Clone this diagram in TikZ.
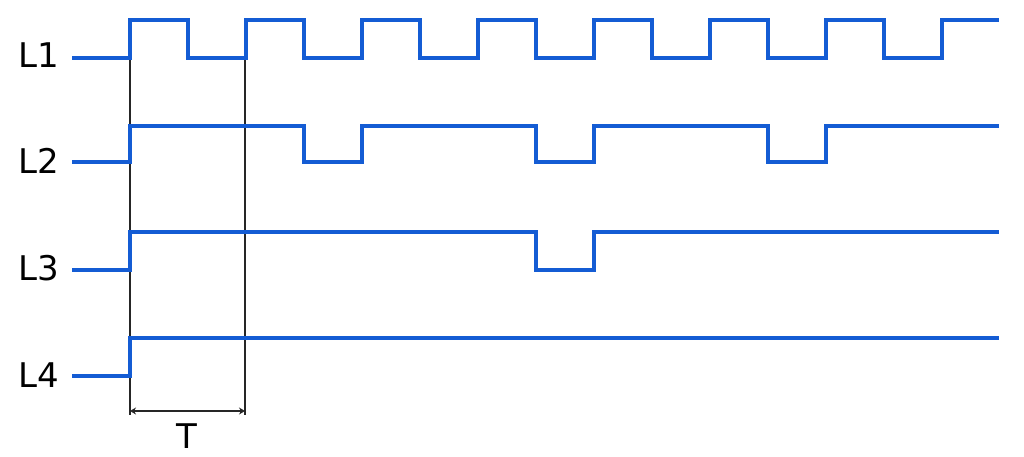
\documentclass[tikz,border=0pt]{standalone}
\usepackage{fontspec}
\setmainfont{DejaVu Sans}
\usetikzlibrary{arrows.meta}
\definecolor{wave}{RGB}{20,92,212}
\begin{document}
\begin{tikzpicture}[x=1pt,y=-1pt,
  wavel/.style={draw=wave,line width=4.4pt,line join=miter},
  guide/.style={draw=black!85,line width=1.6pt},
  lbl/.style={font=\fontsize{34}{34}\selectfont,inner sep=0pt,anchor=center}]
\useasboundingbox (0,0) rectangle (1024,457);
% labels
\node[lbl] (l1) at (39,55) {L1};
\node[lbl] (l2) at (39,161) {L2};
\node[lbl] (l3) at (39,268) {L3};
\node[lbl] (l4) at (39,375) {L4};
% guides
\coordinate (ga) at (130,60);
\coordinate (gb) at (245,60);
\coordinate (gae) at (130,415);
\coordinate (gbe) at (245,415);
\draw[guide] (ga) -- (gae);
\draw[guide] (gb) -- (gbe);
\coordinate (ta) at (130,411);
\coordinate (tb) at (245,411);
\draw[guide,line width=2pt,{Stealth[length=6pt,width=7pt]}-{Stealth[length=6pt,width=7pt]}] (ta) -- (tb);
\node[lbl] (t) at (187,436) {T};
% L1
\draw[wavel] (72,58) -- (130,58)
  \foreach \k in {0,...,6} { -- ({130+116*\k},20) -- ({188+116*\k},20) -- ({188+116*\k},58) -- ({246+116*\k},58) }
  -- (942,20) -- (999,20);
% L2
\draw[wavel] (72,162) -- (130,162) -- (130,126) -- (304,126) -- (304,162) -- (362,162) -- (362,126)
  -- (536,126) -- (536,162) -- (594,162) -- (594,126) -- (768,126) -- (768,162) -- (826,162) -- (826,126) -- (999,126);
% L3
\draw[wavel] (72,270) -- (130,270) -- (130,232) -- (536,232) -- (536,270) -- (594,270) -- (594,232) -- (999,232);
% L4
\draw[wavel] (72,376) -- (130,376) -- (130,338) -- (999,338);
\end{tikzpicture}
\end{document}
